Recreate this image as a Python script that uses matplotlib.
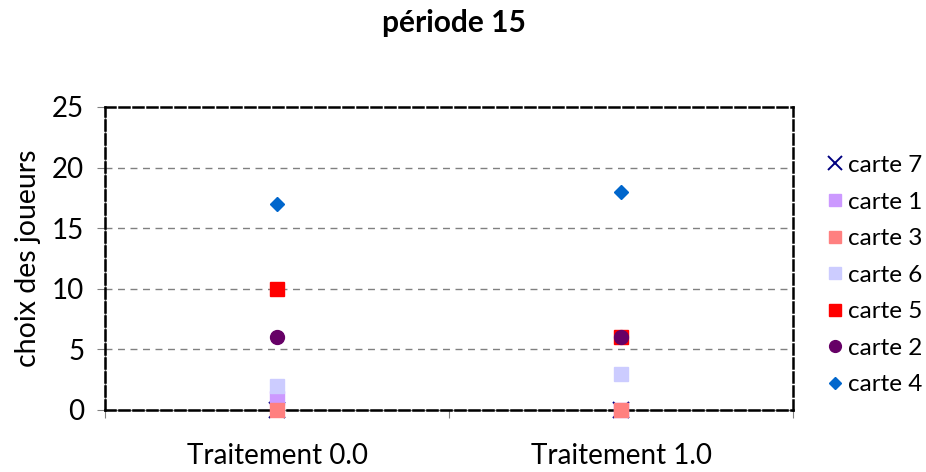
import numpy as np
import matplotlib.pyplot as plt

plt.rcParams['font.family'] = ['Lato', 'DejaVu Sans']

categories = ['Traitement 0.0', 'Traitement 1.0']
series_names = ['carte 7', 'carte 1', 'carte 3', 'carte 6', 'carte 5', 'carte 2', 'carte 4']
carte7 = [0, 0]
carte1 = [1, 0]
carte3 = [0, 0]
carte6 = [2, 3]
carte5 = [10, 6]
carte2 = [6, 6]
carte4 = [17, 18]
values = [carte7, carte1, carte3, carte6, carte5, carte2, carte4]

styles = [
    dict(marker='x', color='#000080', ms=12, mew=1.4),
    dict(marker='s', color='#CC99FF', ms=10),
    dict(marker='s', color='#FF8080', ms=10),
    dict(marker='s', color='#CCCCFF', ms=10),
    dict(marker='s', color='#FF0000', ms=10),
    dict(marker='o', color='#660066', ms=10),
    dict(marker='D', color='#0066CC', ms=7.5),
]

fig = plt.figure(figsize=(9.26, 4.72), dpi=100)
ax = fig.add_axes([0.1134, 0.1314, 0.743, 0.642])

x = np.arange(len(categories)) + 0.5
for name, vals, st in zip(series_names, values, styles):
    ax.plot(x, vals, linestyle='none', label=name, clip_on=False, zorder=3, **st)

ax.set_xlim(0, 2)
ax.set_ylim(0, 25)
ax.set_yticks(range(0, 26, 5))
ax.set_xticks([0, 1, 2])
ax.set_xticklabels([])
ax.set_xticks(x, minor=True)
ax.set_xticklabels(categories, minor=True, fontsize=20)
ax.tick_params(axis='x', which='minor', length=0, pad=24)
ax.tick_params(axis='x', which='major', length=6, color='#808080')
ax.tick_params(axis='y', length=6, color='#808080', labelsize=20, pad=9)

for yv in range(5, 25, 5):
    ax.axhline(yv, color='#808080', lw=1, linestyle=(0, (5, 4)), zorder=1)

for s in ax.spines.values():
    s.set_color('black')
    s.set_linewidth(1.8)
    s.set_linestyle((0, (4, 1.6)))
    s.set_zorder(2)
ax.axhline(0, color='#808080', lw=1, zorder=1.5, clip_on=False)
ax.axvline(0, color='#808080', lw=1, zorder=1.5, clip_on=False)

ax.set_ylabel('choix des joueurs', fontsize=20.5, labelpad=8)
fig.suptitle('période 15', fontsize=21.5, fontweight='bold', x=0.49, y=0.98)

leg = ax.legend(loc='center left', bbox_to_anchor=(813 / 926, 0.417),
                bbox_transform=fig.transFigure, frameon=False, fontsize=17.5,
                handletextpad=0.0, labelspacing=0.64, handlelength=1.05,
                markerscale=0.85, borderaxespad=0)

plt.savefig('out.png', dpi=100)
